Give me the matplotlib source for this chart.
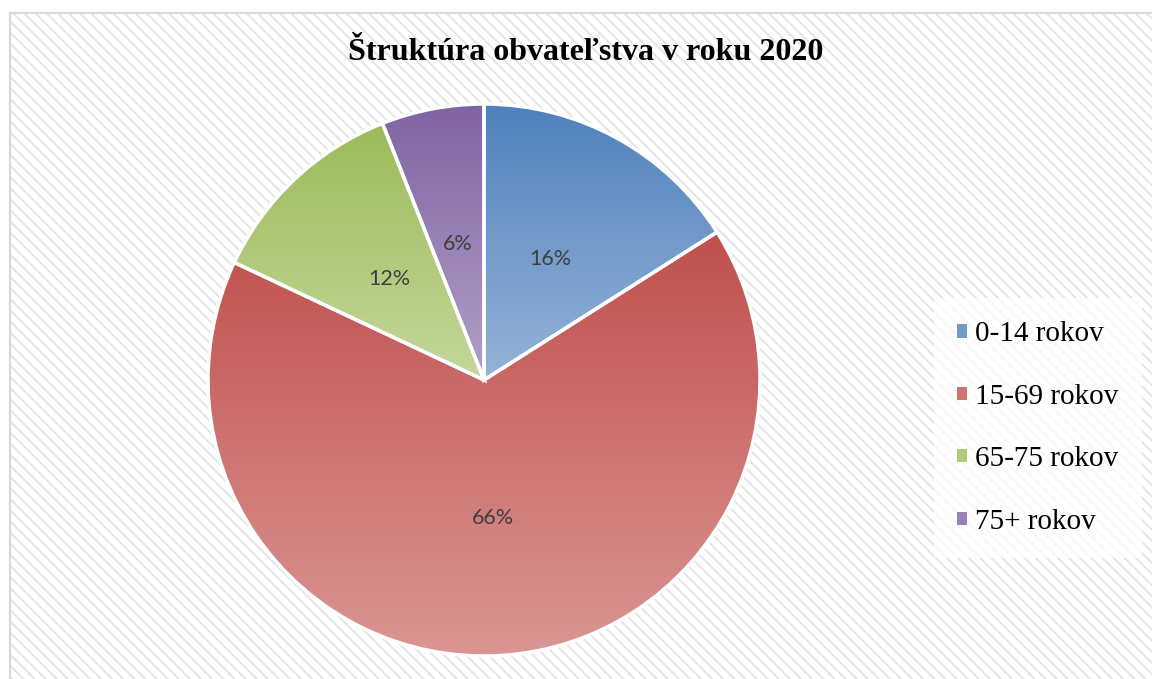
import numpy as np
import matplotlib.pyplot as plt
from matplotlib.colors import LinearSegmentedColormap
from matplotlib.patches import Rectangle, Patch

# ==============================
# Data
# ==============================
title = "Štruktúra obvateľstva v roku 2020"
labels = ["0-14 rokov", "15-69 rokov", "65-75 rokov", "75+ rokov"]
shares = [16, 66, 12, 6]

# gradient colours per slice: (top, bottom)
top_colors = ["#4F81BD", "#C0504D", "#9BBB59", "#8064A2"]
bottom_colors = ["#95B3D7", "#DA9694", "#C4D79B", "#B1A0C7"]

W, H = 1152, 679
plt.rcParams["hatch.linewidth"] = 1.4

fig = plt.figure(figsize=(W / 100, H / 100), dpi=100)
fig.patch.set_facecolor("white")

# ==============================
# Chart area background (hatched) + border
# ==============================
bg = Rectangle((10 / W, 0), 1 - 10 / W, 666 / H, transform=fig.transFigure,
               facecolor="white", edgecolor="#e4e4e4", hatch="\\\\\\",
               linewidth=0, zorder=-3)
fig.patches.append(bg)
border = Rectangle((10 / W, -0.01), 1.1, 666 / H + 0.01, transform=fig.transFigure,
                   facecolor="none", edgecolor="#d9d9d9", linewidth=1.6, zorder=-2)
fig.patches.append(border)

# ==============================
# Pie
# ==============================
cx, cy, r = 484, 380, 276
ax = fig.add_axes([(cx - r) / W, (H - cy - r) / H, 2 * r / W, 2 * r / H])
ax.set_zorder(1)
ax.patch.set_alpha(0)

wedges, texts, autotexts = ax.pie(
    shares, startangle=90, counterclock=False, radius=1,
    autopct="%1.0f%%", pctdistance=0.5,
    wedgeprops=dict(edgecolor="white", linewidth=2.5, facecolor="none"),
    textprops=dict(fontsize=15.5, color="#404040", family="Lato"),
)
ax.axis("off")

grad = np.linspace(0, 1, 256).reshape(-1, 1)
for w, c0, c1 in zip(wedges, top_colors, bottom_colors):
    path = w.get_path().transformed(w.get_patch_transform())
    x0, y0 = path.vertices.min(axis=0)
    x1, y1 = path.vertices.max(axis=0)
    cmap = LinearSegmentedColormap.from_list("g", [c0, c1])
    im = ax.imshow(grad, cmap=cmap, extent=(x0, x1, y0, y1), origin="upper",
                   aspect="auto", zorder=1)
    im.set_clip_path(w)
    w.set_zorder(2)

for t in autotexts:
    t.set_zorder(3)

ax.set_xlim(-1.0, 1.0)
ax.set_ylim(-1.0, 1.0)
ax.set_aspect("equal")

# ==============================
# Title & legend
# ==============================
fig.text(586 / W, 1 - 52 / H, title, ha="center", va="center",
         fontsize=23, fontweight="bold", family="Liberation Serif")

mid_colors = ["#7399C9", "#CD7371", "#B0C97A", "#9882B5"]
handles = [Patch(facecolor=c, edgecolor="none") for c in mid_colors]
leg = fig.legend(handles, labels, loc="center left",
                 bbox_to_anchor=(919 / W, 1 - 428 / H),
                 prop=dict(family="Liberation Serif", size=21),
                 handlelength=0.33, handleheight=0.33, handletextpad=0.3,
                 labelspacing=1.25, borderpad=0.8, frameon=True, fancybox=False)
leg.set_zorder(2)
leg.get_frame().set_facecolor("white")
leg.get_frame().set_alpha(0.75)
leg.get_frame().set_edgecolor("none")

fig.savefig("out.png", dpi=100)
